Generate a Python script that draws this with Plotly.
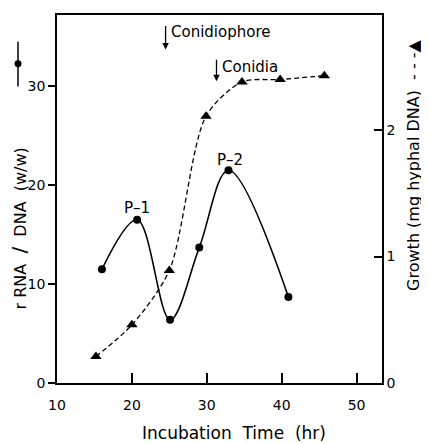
import plotly.graph_objects as go

# rRNA / DNA (w/w) - left axis
rna_time = [16, 20.7, 25.1, 29, 32.9, 40.9]
rna_ratio = [11.5, 16.5, 6.4, 13.7, 21.5, 8.7]

# Growth (mg hyphal DNA) - right axis
growth_time = [15.2, 20, 25, 29.9, 34.7, 39.8, 45.7]
growth_val = [0.21, 0.46, 0.89, 2.11, 2.38, 2.40, 2.43]

x_ticks = [10, 20, 30, 40, 50]
y_left_ticks = [0, 10, 20, 30]
y_right_ticks = [0, 1, 2]

FONT = "DejaVu Sans"
NB = "\u00a0"
fig = go.Figure()

fig.add_trace(go.Scatter(
    x=rna_time, y=rna_ratio, mode="lines+markers",
    line=dict(color="black", width=1.6, shape="spline", smoothing=1.0),
    marker=dict(symbol="circle", size=8, color="black"),
    yaxis="y", showlegend=False))

fig.add_trace(go.Scatter(
    x=growth_time, y=growth_val, mode="lines+markers",
    line=dict(color="black", width=1.3, dash="5px,3px", shape="spline", smoothing=0.8),
    marker=dict(symbol="triangle-up", size=10, color="black"),
    yaxis="y2", showlegend=False))

# page has an 8px body margin, so the figure is drawn 8px smaller
fig.update_layout(
    width=421, height=435,
    margin=dict(l=49, r=47, t=5, b=60),
    paper_bgcolor="white", plot_bgcolor="white",
    font=dict(family=FONT, size=14, color="black"),
    xaxis=dict(range=[10, 53.4], tickvals=x_ticks, ticks="inside", ticklen=10,
               tickwidth=1.5, tickcolor="black", showline=True, linecolor="black",
               linewidth=1.6, mirror=True, showgrid=False, zeroline=False,
               ticklabelstandoff=8, tickfont=dict(size=14)),
    yaxis=dict(range=[0, 37.2], tickvals=y_left_ticks, ticks="outside", ticklen=7,
               tickwidth=1.5, tickcolor="black", showline=True, linecolor="black",
               linewidth=1.6, showgrid=False, zeroline=False, tickfont=dict(size=14)),
    yaxis2=dict(range=[0, 2.91], tickvals=y_right_ticks, overlaying="y", side="right",
                ticks="inside", ticklen=8, tickwidth=1.5, tickcolor="black",
                showline=True, linecolor="black", linewidth=1.6, showgrid=False,
                zeroline=False, tickfont=dict(size=14)),
)

ann = []
# axis titles
ann.append(dict(text=f"Incubation{NB*2}Time{NB*2}(hr)", xref="paper", yref="paper",
                x=0.546, y=0, yshift=-50, xanchor="center", yanchor="middle",
                showarrow=False, font=dict(size=17)))
ann.append(dict(text=f"r{NB}RNA{NB*2}<span style='font-size:20px'>/</span>{NB*2}DNA{NB*2}(w/w)",
                xref="paper", yref="paper",
                x=0, xshift=-38, y=0.42, xanchor="center", yanchor="middle",
                textangle=-90, showarrow=False, font=dict(size=16)))
ann.append(dict(text=f"Growth{NB}(mg{NB}hyphal{NB}DNA){NB*2}- - -▲", xref="paper", yref="paper",
                x=1, xshift=32, y=0.59, xanchor="center", yanchor="middle",
                textangle=-90, showarrow=False, font=dict(size=16)))
# event labels
ann.append(dict(text="Conidiophore", x=24.9, y=35.5, xanchor="left",
                showarrow=False, font=dict(size=15)))
ann.append(dict(text="", x=24.5, y=33.7, ax=0, ay=-25, showarrow=True,
                arrowhead=2, arrowsize=1, arrowwidth=1.3, arrowcolor="black"))
ann.append(dict(text="Conidia", x=31.7, y=31.9, xanchor="left",
                showarrow=False, font=dict(size=15)))
ann.append(dict(text="", x=31.3, y=30.5, ax=0, ay=-23, showarrow=True,
                arrowhead=2, arrowsize=1, arrowwidth=1.3, arrowcolor="black"))
ann.append(dict(text="P–1", x=20.7, y=17.7, showarrow=False, font=dict(size=15)))
ann.append(dict(text="P–2", x=33.1, y=22.5, showarrow=False, font=dict(size=15)))
fig.update_layout(annotations=ann)

# left axis symbol  -●-  (vertical)
sx = (18 - 57) / 325
fig.add_shape(type="line", xref="paper", yref="paper", x0=sx, x1=sx,
              y0=(383 - 40) / 370, y1=(383 - 85) / 370,
              line=dict(color="black", width=1.5))
fig.add_shape(type="circle", xref="paper", yref="paper",
              x0=sx - 3.5 / 325, x1=sx + 3.5 / 325,
              y0=(383 - 62) / 370 - 3.5 / 370, y1=(383 - 62) / 370 + 3.5 / 370,
              fillcolor="black", line=dict(color="black", width=0))

fig.write_html("out.html")
